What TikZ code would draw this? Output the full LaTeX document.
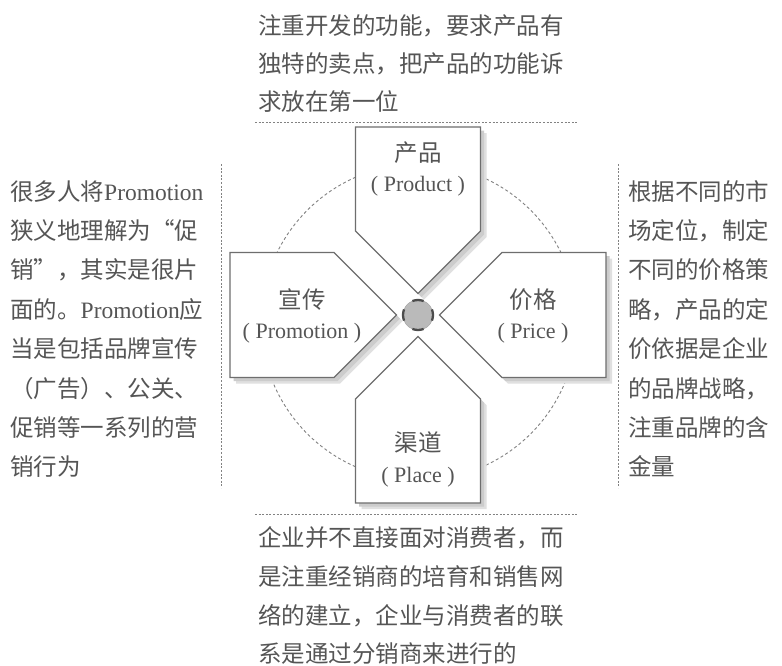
\documentclass[tikz,border=0pt]{standalone}
\usepackage{fontspec}
\setmainfont{Liberation Serif}
\newfontfamily\cjk{Noto Sans CJK SC}
\XeTeXlinebreaklocale "zh"
\XeTeXlinebreakskip=0pt plus 3pt
\definecolor{textc}{RGB}{85,85,85}
\definecolor{linec}{RGB}{110,110,110}
\definecolor{dashc}{RGB}{130,130,130}
\newcommand\jline[2]{\makebox[#1][s]{#2}}
\tikzset{
  txt/.style={anchor=base west, inner sep=0pt, text=textc, font=\cjk\fontsize{23.5}{28}\selectfont},
  lbl/.style={anchor=center, inner sep=0pt, text=textc, font=\cjk\fontsize{23.5}{28}\selectfont},
  lat/.style={anchor=center, inner sep=0pt, text=textc, font=\rmfamily\fontsize{22}{26}\selectfont},
  sep/.style={draw=dashc, line width=0.9pt, dash pattern=on 2pt off 1.6pt},
  ring/.style={draw=dashc, line width=0.9pt, dash pattern=on 3pt off 2.5pt},
  armbox/.style={fill=white, draw=linec, line width=1.1pt, line join=miter},
  shadowA/.style={fill=black!12},
  shadowB/.style={fill=black!20},
  hub/.style={fill=black!27, draw=black!35, line width=0.5pt},
  hubmark/.style={draw=black!70, line width=2.3pt}
}
\newcommand\armpath{(21.5,0) -- (84,-62.5) -- (188,-62.5) -- (188,62.5) -- (84,62.5) -- cycle}
\begin{document}
\begin{tikzpicture}[x=1pt,y=-1pt]
\useasboundingbox (0,0) rectangle (782,665);
\fill[white] (0,0) rectangle (782,665);
\coordinate (C) at (418,315);
\coordinate (R) at (419,322);
% dashed ring
\draw[ring] (R) circle[radius=158];
% shadows
\foreach \a in {90,0,180,270}{
  \begin{scope}[shift={(424,321)}, rotate=\a]
    \fill[shadowA] \armpath;
  \end{scope}
  \begin{scope}[shift={(421.5,318.5)}, rotate=\a]
    \fill[shadowB] \armpath;
  \end{scope}
}
% arms
\foreach \a in {90,0,180,270}{
  \begin{scope}[shift={(C)}, rotate=\a]
    \path[armbox] \armpath;
  \end{scope}
}
% hub
\path[hub] (C) circle[radius=15];
\foreach \a in {0,90,180,270}{
  \draw[hubmark] (C) ++(\a-22:15) arc[start angle=\a-22, end angle=\a+22, radius=15];
}
% labels
\node[lbl] (prodC) at (418,153) {产品};
\node[lat] (prodE) at (418,186) {( Product )};
\node[lbl] (promC) at (302,300) {宣传};
\node[lat] (promE) at (302,333) {( Promotion )};
\node[lbl] (priC) at (533,300) {价格};
\node[lat] (priE) at (533,333) {( Price )};
\node[lbl] (plaC) at (418,443) {渠道};
\node[lat] (plaE) at (418,477) {( Place )};
% separators
\draw[sep] (255,122) -- (578,122);
\draw[sep] (255,514) -- (578,514);
\draw[sep] (221,164) -- (221,488);
\draw[sep] (618,164) -- (618,488);
% top text
\node[txt] (t1) at (258,34) {\jline{320pt}{注重开发的功能，要求产品有}};
\node[txt] (t2) at (258,72) {\jline{320pt}{独特的卖点，把产品的功能诉}};
\node[txt] (t3) at (258,110) {求放在第一位};
% left text
\node[txt] (l1) at (10,200) {\jline{196pt}{很多人将{\rmfamily Promotion}}};
\node[txt] (l2) at (10,239.4) {\jline{196pt}{狭义地理解为“促}};
\node[txt] (l3) at (10,278.8) {\jline{196pt}{销”，其实是很片}};
\node[txt] (l4) at (10,318.2) {\jline{196pt}{面的。{\rmfamily Promotion}应}};
\node[txt] (l5) at (10,357.6) {\jline{196pt}{当是包括品牌宣传}};
\node[txt] (l6) at (10,397) {\jline{196pt}{（广告）、公关、}};
\node[txt] (l7) at (10,436.4) {\jline{196pt}{促销等一系列的营}};
\node[txt] (l8) at (10,475.8) {销行为};
% right text
\node[txt] (r1) at (628,200) {\jline{150pt}{根据不同的市}};
\node[txt] (r2) at (628,239.4) {\jline{150pt}{场定位，制定}};
\node[txt] (r3) at (628,278.8) {\jline{150pt}{不同的价格策}};
\node[txt] (r4) at (628,318.2) {\jline{150pt}{略，产品的定}};
\node[txt] (r5) at (628,357.6) {\jline{150pt}{价依据是企业}};
\node[txt] (r6) at (628,397) {\jline{150pt}{的品牌战略，}};
\node[txt] (r7) at (628,436.4) {\jline{150pt}{注重品牌的含}};
\node[txt] (r8) at (628,475.8) {金量};
% bottom text
\node[txt] (b1) at (258,546) {\jline{320pt}{企业并不直接面对消费者，而}};
\node[txt] (b2) at (258,585) {\jline{320pt}{是注重经销商的培育和销售网}};
\node[txt] (b3) at (258,624) {\jline{320pt}{络的建立，企业与消费者的联}};
\node[txt] (b4) at (258,662) {系是通过分销商来进行的};
\end{tikzpicture}
\end{document}
